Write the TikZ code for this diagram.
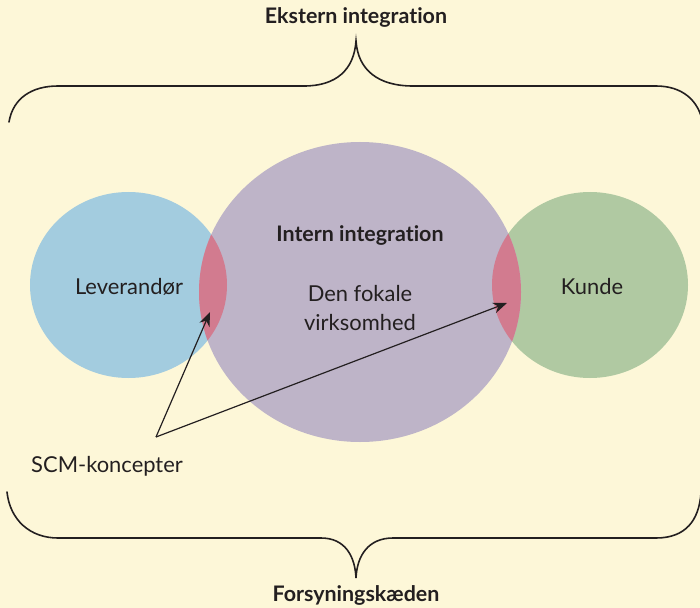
\documentclass[tikz,border=0pt]{standalone}
\usepackage{fontspec}
\setmainfont{Lato}[Ligatures={NoCommon}]
\usetikzlibrary{arrows.meta}
\definecolor{bg}{HTML}{FDF7D8}
\definecolor{levblue}{HTML}{A3CCDF}
\definecolor{focpurple}{HTML}{BEB4C8}
\definecolor{kundegreen}{HTML}{B0C9A2}
\definecolor{overlap}{HTML}{D27B8F}
\definecolor{ink}{HTML}{231F20}
\tikzset{
  lbl/.style={text=ink, font=\fontsize{22}{26}\selectfont, inner sep=0pt},
  hdr/.style={text=ink, font=\bfseries\fontsize{21.5}{26}\selectfont, inner sep=0pt},
  brace/.style={draw=ink, line width=1.6pt, line cap=round},
  pointer/.style={draw=ink, line width=1.2pt, -{Stealth[length=14pt,width=11pt]}},
}
\begin{document}
\begin{tikzpicture}[x=1bp,y=-1bp]
\useasboundingbox (0,0) rectangle (700,608);
\fill[bg] (0,0) rectangle (700,608);
% circles
\fill[levblue] (128.5,285) ellipse [x radius=98.5, y radius=93];
\fill[kundegreen] (590,285) ellipse [x radius=98, y radius=93];
\fill[focpurple] (360,292) ellipse [x radius=161, y radius=150];
\begin{scope}
  \clip (128.5,285) ellipse [x radius=98.5, y radius=93];
  \fill[overlap] (360,292) ellipse [x radius=161, y radius=150];
\end{scope}
\begin{scope}
  \clip (590,285) ellipse [x radius=98, y radius=93];
  \fill[overlap] (360,292) ellipse [x radius=161, y radius=150];
\end{scope}
% texts
\node[hdr] (ekst) at (356,17) {Ekstern integration};
\node[hdr] (forsy) at (356,595) {Forsyningskæden};
\node[hdr] (intern) at (360,235) {Intern integration};
\node[lbl, align=center] (fokal) at (360,308) {Den fokale\\[4pt]virksomhed};
\node[lbl] (lev) at (129,287) {Leverandør};
\node[lbl] (kunde) at (592,287) {Kunde};
\node[lbl] (scm) at (107,466) {SCM-koncepter};
% braces
\draw[brace] (9,122) .. controls (13,98) and (32,86) .. (58,86) -- (304,86)
  .. controls (336,86) and (354,70) .. (356,41)
  .. controls (358,70) and (378,86) .. (413,86) -- (656,86)
  .. controls (682,86) and (699,100) .. (703,124);
\draw[brace] (7,492) .. controls (10,520) and (30,538) .. (58,538) -- (321,538)
  .. controls (345,538) and (355,556) .. (356,578)
  .. controls (357,556) and (368,538) .. (393,538) -- (656,538)
  .. controls (686,538) and (699,520) .. (701,493);
% pointers
\coordinate (src) at (156,437);
\coordinate (lensL) at (210,312);
\coordinate (lensR) at (507,303);
\draw[pointer] (src) -- (lensL);
\draw[pointer] (src) -- (lensR);
\end{tikzpicture}
\end{document}
